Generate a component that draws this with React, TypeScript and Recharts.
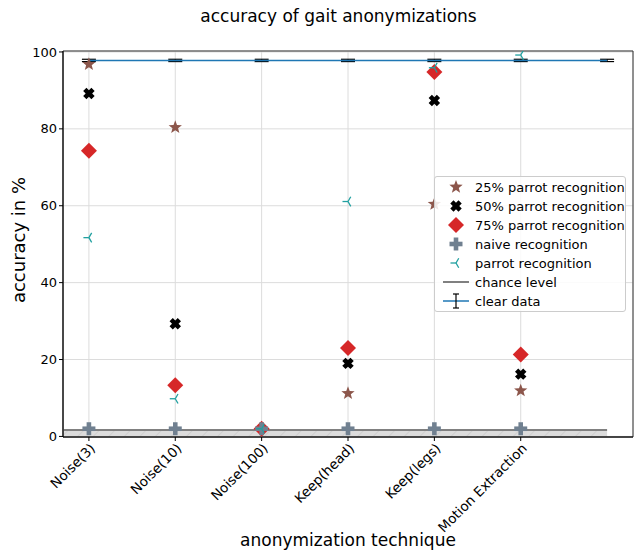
import React from 'react';
import {
  ScatterChart,
  Scatter,
  XAxis,
  YAxis,
  CartesianGrid,
  ReferenceArea,
  ReferenceLine,
  ErrorBar,
} from 'recharts';

const categories = ['Noise(3)', 'Noise(10)', 'Noise(100)', 'Keep(head)', 'Keep(legs)', 'Motion Extraction'];
// null = marker not visible in the plot (hidden behind the others)
const parrot25 = [96.8, 80.4, null, 11.2, 60.4, 11.9];
const parrot50 = [89.2, 29.3, null, 19.0, 87.4, 16.2];
const parrot75 = [74.3, 13.3, 2.0, 23.0, 94.8, 21.3];
const naive = [2.0, 2.0, 2.0, 2.0, 2.0, 2.0];
const parrot = [51.7, 9.8, 2.0, 61.1, 95.9, 99.2];
const clearData = [97.8, 97.8, 97.8, 97.8, 97.8, 97.8, 97.8];
const clearErr = [0.3, 0.3, 0.3, 0.3, 0.3, 0.3, 0.3];
const chanceLevel = 1.67;
const yTicks = [0, 20, 40, 60, 80, 100];

const toPoints = (vals: (number | null)[]) =>
  vals.map((y, i) => ({ x: i, y })).filter((p) => p.y !== null);
const clearPoints = clearData.map((y, i) => ({ x: i, y, err: clearErr[i] }));

const COLORS = {
  star: '#8c564b',
  x: '#000000',
  diamond: '#d62728',
  plus: '#708090',
  tri: '#20a0a0',
  chance: '#808080',
  clear: '#1f77b4',
};

const font = 'DejaVu Sans, sans-serif';

const starPath = (cx: number, cy: number, r: number) => {
  const pts: string[] = [];
  for (let i = 0; i < 10; i++) {
    const rr = i % 2 === 0 ? r : r * 0.42;
    const a = -Math.PI / 2 + (i * Math.PI) / 5;
    pts.push(`${cx + rr * Math.cos(a)},${cy + rr * Math.sin(a)}`);
  }
  return 'M' + pts.join('L') + 'Z';
};

const Star = ({ cx, cy }: any) => <path d={starPath(cx, cy, 7)} fill={COLORS.star} />;

// filled "X" marker: a thick plus rotated 45 degrees
const xPath = (cx: number, cy: number) => {
  const a = 5.8;
  const w = 2.3;
  const base = [
    [-w, -a], [w, -a], [w, -w], [a, -w], [a, w], [w, w],
    [w, a], [-w, a], [-w, w], [-a, w], [-a, -w], [-w, -w],
  ];
  const c = Math.SQRT1_2;
  return (
    'M' +
    base.map(([px, py]) => `${cx + (px - py) * c},${cy + (px + py) * c}`).join('L') +
    'Z'
  );
};

const XMark = ({ cx, cy }: any) => <path d={xPath(cx, cy)} fill={COLORS.x} />;

const Diamond = ({ cx, cy }: any) => {
  const r = 8;
  return <path d={`M${cx},${cy - r}L${cx + r},${cy}L${cx},${cy + r}L${cx - r},${cy}Z`} fill={COLORS.diamond} />;
};

const Plus = ({ cx, cy }: any) => {
  const s = 6.5;
  return (
    <g stroke={COLORS.plus} strokeWidth={4.6}>
      <line x1={cx - s} y1={cy} x2={cx + s} y2={cy} />
      <line x1={cx} y1={cy - s} x2={cx} y2={cy + s} />
    </g>
  );
};

const TriLeft = ({ cx, cy }: any) => {
  const r = 5.5;
  return (
    <g stroke={COLORS.tri} strokeWidth={1.3} fill="none">
      <line x1={cx} y1={cy} x2={cx - r} y2={cy} />
      <line x1={cx} y1={cy} x2={cx + r * 0.5} y2={cy - r * 0.87} />
      <line x1={cx} y1={cy} x2={cx + r * 0.5} y2={cy + r * 0.87} />
    </g>
  );
};

const NoShape = () => <g />;

const HatchArea = (props: any) => {
  const { x, y, width, height } = props;
  return (
    <g>
      <defs>
        <pattern id="hatch" patternUnits="userSpaceOnUse" width="11" height="11" patternTransform="rotate(45)">
          <line x1="0" y1="0" x2="0" y2="11" stroke="#bdbdbd" strokeWidth="0.8" />
        </pattern>
      </defs>
      <rect x={x} y={y} width={width} height={height} fill="#dcdcdc" />
      <rect x={x} y={y} width={width} height={height} fill="url(#hatch)" />
    </g>
  );
};

const XTick = ({ x, y, payload }: any) => {
  const label = categories[payload.value] ?? '';
  return (
    <g transform={`translate(${x},${y - 1}) rotate(-45)`}>
      <text x={0} y={0} dy="0.75em" textAnchor="end" fontSize={13.5} fontFamily={font} fill="#000">
        {label}
      </text>
    </g>
  );
};

const legendItems: { label: string; icon: React.ReactNode }[] = [
  { label: '25% parrot recognition', icon: <Star cx={10} cy={9} /> },
  { label: '50% parrot recognition', icon: <XMark cx={10} cy={9} /> },
  { label: '75% parrot recognition', icon: <Diamond cx={10} cy={9} /> },
  { label: 'naive recognition', icon: <Plus cx={10} cy={9} /> },
  { label: 'parrot recognition', icon: <TriLeft cx={10} cy={9} /> },
  {
    label: 'chance level',
    icon: <line x1={-3} y1={9} x2={23} y2={9} stroke={COLORS.chance} strokeWidth={2} />,
  },
  {
    label: 'clear data',
    icon: (
      <g>
        <line x1={-3} y1={9} x2={23} y2={9} stroke={COLORS.clear} strokeWidth={1.5} />
        <line x1={10} y1={2} x2={10} y2={16} stroke="#000" strokeWidth={1.2} />
        <line x1={7} y1={2} x2={13} y2={2} stroke="#000" strokeWidth={1.2} />
        <line x1={7} y1={16} x2={13} y2={16} stroke="#000" strokeWidth={1.2} />
      </g>
    ),
  },
];

const LegendBox = () => (
  <div
    style={{
      position: 'absolute',
      left: 434,
      top: 176,
      width: 192,
      height: 136,
      border: '1px solid #cccccc',
      borderRadius: 3,
      background: 'rgba(255,255,255,0.85)',
      fontFamily: font,
      fontSize: 13,
      boxSizing: 'border-box',
      paddingTop: 1,
    }}
  >
    {legendItems.map((it) => (
      <div key={it.label} style={{ height: 19, display: 'flex', alignItems: 'center' }}>
        <svg width={40} height={19} style={{ overflow: 'visible' }}>
          <g transform="translate(11,0)">{it.icon}</g>
        </svg>
        <span style={{ whiteSpace: 'nowrap' }}>{it.label}</span>
      </div>
    ))}
  </div>
);

export default function App() {
  return (
    <div style={{ position: 'absolute', left: 0, top: 0, width: 635, height: 552, background: '#fff', overflow: 'hidden' }}>
      <div
        style={{
          position: 'absolute',
          top: 6,
          left: 0,
          width: 677,
          textAlign: 'center',
          fontFamily: font,
          fontSize: 17,
        }}
      >
        accuracy of gait anonymizations
      </div>
      <ScatterChart width={635} height={552} margin={{ top: 51, right: 2, left: 0, bottom: 0 }}>
        <CartesianGrid stroke="#dcdcdc" strokeWidth={1} />
        <XAxis
          type="number"
          dataKey="x"
          domain={[-0.3, 6.3]}
          ticks={[0, 1, 2, 3, 4, 5]}
          allowDataOverflow
          height={115}
          tick={<XTick />}
          tickSize={4}
          axisLine={{ stroke: '#000' }}
          tickLine={{ stroke: '#000' }}
          interval={0}
        />
        <YAxis
          type="number"
          dataKey="y"
          domain={[-0.15, 100.25]}
          ticks={yTicks}
          allowDataOverflow
          width={63}
          tickSize={4}
          tick={{ fontSize: 13, fontFamily: font, fill: '#000' }}
          axisLine={{ stroke: '#000' }}
          tickLine={{ stroke: '#000' }}
        />
        <ReferenceArea x1={-0.3} x2={6} y1={0} y2={chanceLevel} shape={<HatchArea />} ifOverflow="hidden" />
        <ReferenceLine
          segment={[
            { x: -0.3, y: chanceLevel },
            { x: 6, y: chanceLevel },
          ]}
          stroke={COLORS.chance}
          strokeWidth={2}
        />
        <Scatter
          name="clear data"
          data={clearPoints}
          line={{ stroke: COLORS.clear, strokeWidth: 1.5 }}
          shape={<NoShape />}
          isAnimationActive={false}
        >
          <ErrorBar dataKey="err" direction="y" width={7} stroke="#000" strokeWidth={1.2} />
        </Scatter>
        <Scatter name="25%" data={toPoints(parrot25)} shape={<Star />} isAnimationActive={false} />
        <Scatter name="50%" data={toPoints(parrot50)} shape={<XMark />} isAnimationActive={false} />
        <Scatter name="75%" data={toPoints(parrot75)} shape={<Diamond />} isAnimationActive={false} />
        <Scatter name="naive" data={toPoints(naive)} shape={<Plus />} isAnimationActive={false} />
        <Scatter name="parrot" data={toPoints(parrot)} shape={<TriLeft />} isAnimationActive={false} />
        <ReferenceArea
          x1={-0.3}
          x2={6.3}
          y1={-0.15}
          y2={100.25}
          fill="none"
          stroke="#333"
          strokeWidth={1}
          ifOverflow="visible"
        />
      </ScatterChart>
      <div
        style={{
          position: 'absolute',
          left: 18,
          top: 240,
          transform: 'translate(-50%, -50%) rotate(-90deg)',
          whiteSpace: 'nowrap',
          fontFamily: font,
          fontSize: 18,
        }}
      >
        accuracy in %
      </div>
      <div
        style={{
          position: 'absolute',
          left: 0,
          top: 530,
          width: 696,
          textAlign: 'center',
          fontFamily: font,
          fontSize: 17,
          lineHeight: '20px',
        }}
      >
        anonymization technique
      </div>
      <LegendBox />
    </div>
  );
}
